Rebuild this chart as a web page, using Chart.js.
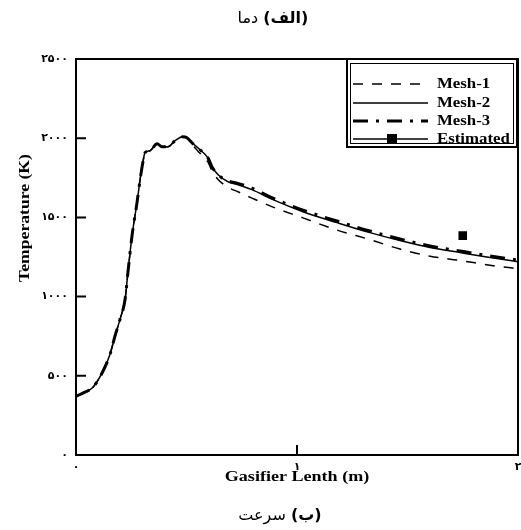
<!DOCTYPE html>
<html>
<head>
<meta charset="utf-8">
<script src="https://cdn.jsdelivr.net/npm/chart.js@4/dist/chart.umd.min.js"></script>
<style>
  html, body { margin: 0; padding: 0; background: #fff; }
  #wrap { position: relative; width: 521px; height: 530px; }
  canvas { position: absolute; left: 0; top: 0; }
  .fa { position: absolute; font-family: "DejaVu Sans", sans-serif; font-size: 16px; line-height: 18px; color: #000; white-space: nowrap; transform: translateX(-50%); direction: rtl; }
  .fa b { font-weight: bold; }
</style>
</head>
<body>
<div id="wrap">
  <canvas id="chart" width="521" height="530"></canvas>
  <div class="fa" style="left:273px; top:9px;"><b>(الف)</b> دما</div>
  <div class="fa" style="left:280px; top:506px;"><b>(ب)</b> سرعت</div>
</div>
<script>
// Position along the gasifier (m)
const lengthM = [0, 0.04, 0.077, 0.122, 0.154, 0.176, 0.199, 0.222, 0.235, 0.253, 0.276, 0.29, 0.303, 0.312, 0.335, 0.367, 0.389, 0.416, 0.448, 0.484, 0.502, 0.525, 0.561, 0.597, 0.615, 0.643, 0.688, 0.733, 0.796, 0.891, 1.027, 1.181, 1.33, 1.466, 1.602, 1.738, 1.873, 2.0];

// Temperature (K) for each mesh
const mesh1 = [370, 397, 428, 529, 636, 749, 856, 982, 1152, 1379, 1593, 1738, 1851, 1908, 1921, 1965, 1946, 1946, 1984, 2009, 2003, 1960, 1905, 1850, 1795, 1740, 1690, 1662, 1622, 1565, 1497, 1420, 1360, 1300, 1255, 1228, 1198, 1176];
const mesh2 = [370, 397, 428, 529, 636, 749, 856, 982, 1152, 1379, 1593, 1738, 1851, 1908, 1921, 1965, 1946, 1946, 1984, 2009, 2003, 1971, 1927, 1876, 1820, 1769, 1725, 1706, 1675, 1612, 1536, 1467, 1404, 1354, 1310, 1278, 1247, 1220];
const mesh3 = [370, 397, 428, 529, 636, 749, 856, 982, 1152, 1379, 1593, 1738, 1851, 1908, 1921, 1965, 1946, 1946, 1984, 2009, 2003, 1971, 1927, 1876, 1820, 1769, 1730, 1715, 1685, 1622, 1546, 1477, 1414, 1364, 1320, 1288, 1257, 1230];

// Estimated value
const estimatedX = [1.75];
const estimatedT = [1385];

// Axis ticks and their labels
const lengthTicks = [0, 1, 2];
const lengthTickLabels = ['۰', '۱', '۲'];
const tempTicks = [0, 500, 1000, 1500, 2000, 2500];
const tempTickLabels = ['۰', '۵۰۰', '۱۰۰۰', '۱۵۰۰', '۲۰۰۰', '۲۵۰۰'];

const seriesNames = ['Mesh-1', 'Mesh-2', 'Mesh-3', 'Estimated'];

const toPoints = (xs, ys) => xs.map((x, i) => ({ x: x, y: ys[i] }));

const serif = '"Liberation Serif", "Times New Roman", serif';
const tickFont = { family: '"DejaVu Sans", sans-serif', size: 11, weight: 'bold' };

// Frame, inward tick marks, length labels, axis titles and boxed legend
const decorations = {
  id: 'decorations',
  afterDraw(chart) {
    const ctx = chart.ctx;
    const a = chart.chartArea;
    const xs = chart.scales.x, ys = chart.scales.y;
    ctx.save();
    ctx.strokeStyle = '#000';
    ctx.fillStyle = '#000';

    // plot frame
    ctx.lineWidth = 2;
    ctx.strokeRect(a.left, a.top, a.right - a.left, a.bottom - a.top);

    // inward ticks
    ctx.beginPath();
    tempTicks.forEach(v => {
      const y = ys.getPixelForValue(v);
      ctx.moveTo(a.left, y); ctx.lineTo(a.left + 10, y);
    });
    lengthTicks.forEach(v => {
      const x = xs.getPixelForValue(v);
      ctx.moveTo(x, a.bottom); ctx.lineTo(x, a.bottom - 10);
    });
    ctx.stroke();

    // length tick labels
    ctx.font = 'bold ' + tickFont.size + 'px ' + tickFont.family;
    ctx.textAlign = 'center';
    ctx.textBaseline = 'top';
    lengthTicks.forEach((v, i) => {
      ctx.fillText(lengthTickLabels[i], xs.getPixelForValue(v), a.bottom + 7);
    });

    // axis titles
    ctx.font = 'bold 14px ' + serif;
    ctx.textAlign = 'center';
    ctx.textBaseline = 'middle';
    ctx.save();
    ctx.translate((a.left + a.right) / 2, 477);
    ctx.scale(1.29, 1);
    ctx.fillText('Gasifier Lenth (m)', 0, 0);
    ctx.restore();
    ctx.save();
    ctx.translate(25, 218);
    ctx.rotate(-Math.PI / 2);
    ctx.scale(1.26, 1);
    ctx.fillText('Temperature (K)', 0, 0);
    ctx.restore();

    // legend box
    const bx = 347, by = a.top, bw = a.right - 1 - 347, bh = 88;
    ctx.fillStyle = '#fff';
    ctx.fillRect(bx, by, bw, bh);
    ctx.fillStyle = '#000';
    ctx.lineWidth = 2;
    ctx.strokeRect(bx, by, bw, bh);
    ctx.lineWidth = 1;
    ctx.strokeRect(bx + 3.5, by + 4.5, bw - 7, bh - 8);

    const rows = [84, 103, 121, 139];
    chart.data.datasets.forEach((ds, i) => {
      const y = rows[i];
      ctx.save();
      ctx.beginPath();
      ctx.lineWidth = ds.legendLineWidth || ds.borderWidth;
      ctx.setLineDash(ds.borderDash || []);
      ctx.moveTo(353, y); ctx.lineTo(428, y);
      ctx.stroke();
      ctx.setLineDash([]);
      if (ds.pointStyle === 'rect') {
        ctx.fillRect(392 - 5, y - 5, 10, 10);
      }
      ctx.restore();
      ctx.save();
      ctx.font = 'bold 14px ' + serif;
      ctx.textAlign = 'left';
      ctx.textBaseline = 'middle';
      ctx.translate(437, y);
      ctx.scale(1.2, 1);
      ctx.fillText(ds.label, 0, 0);
      ctx.restore();
    });
    ctx.restore();
  }
};

new Chart(document.getElementById('chart'), {
  type: 'line',
  data: {
    datasets: [
      {
        label: seriesNames[0],
        data: toPoints(lengthM, mesh1),
        borderColor: '#000', borderWidth: 1.5, borderDash: [10, 9],
        pointRadius: 0, cubicInterpolationMode: 'monotone', fill: false
      },
      {
        label: seriesNames[1],
        data: toPoints(lengthM, mesh2),
        borderColor: '#000', borderWidth: 1.5,
        pointRadius: 0, cubicInterpolationMode: 'monotone', fill: false
      },
      {
        label: seriesNames[2],
        data: toPoints(lengthM, mesh3),
        borderColor: '#000', borderWidth: 3, borderDash: [15, 8, 3, 8],
        pointRadius: 0, cubicInterpolationMode: 'monotone', fill: false
      },
      {
        label: seriesNames[3],
        data: toPoints(estimatedX, estimatedT),
        borderColor: '#000', backgroundColor: '#000', borderWidth: 1.5,
        legendLineWidth: 1.5,
        showLine: false, pointStyle: 'rect', pointRadius: 5, pointHoverRadius: 5
      }
    ]
  },
  options: {
    responsive: false,
    animation: false,
    devicePixelRatio: 1,
    layout: { autoPadding: false, padding: { left: 0, right: 3, top: 59, bottom: 0 } },
    plugins: {
      legend: { display: false },
      title: { display: false },
      tooltip: { enabled: false }
    },
    scales: {
      x: {
        type: 'linear', min: 0, max: 2,
        afterBuildTicks: s => { s.ticks = lengthTicks.map(v => ({ value: v })); },
        afterFit: s => { s.height = 75; },
        grid: { display: false, drawTicks: false },
        border: { display: false },
        ticks: { display: false }
      },
      y: {
        type: 'linear', min: 0, max: 2500,
        afterBuildTicks: s => { s.ticks = tempTicks.map(v => ({ value: v })); },
        afterFit: s => { s.width = 76; },
        grid: { display: false, drawTicks: false },
        border: { display: false },
        ticks: {
          padding: 8, autoSkip: false, color: '#000',
          font: tickFont,
          callback: v => tempTickLabels[tempTicks.indexOf(v)]
        }
      }
    }
  },
  plugins: [decorations]
});
</script>
</body>
</html>
